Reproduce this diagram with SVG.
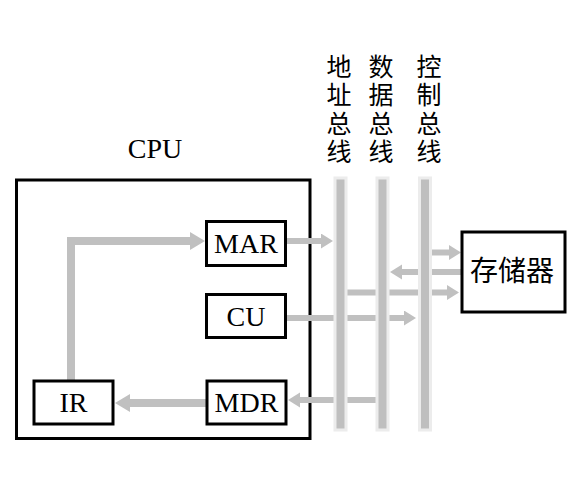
<svg xmlns="http://www.w3.org/2000/svg" width="578" height="498" viewBox="0 0 578 498">
<style>
.box{fill:#fff;stroke:#000;stroke-width:3}
.lbl{font-family:"Liberation Serif","Times New Roman",serif;font-size:28px;fill:#000;text-anchor:middle}
.cjk{font-family:"Noto Sans CJK SC","Noto Sans",sans-serif;fill:#000;text-anchor:middle}
.vert{font-family:"Noto Sans CJK SC","Noto Sans",sans-serif;font-size:25px;fill:#000;writing-mode:vertical-rl;letter-spacing:3.5px}
.big{fill:none;stroke:#c0c0c0;stroke-width:8;stroke-linejoin:miter}
.thin{fill:none;stroke:#c0c0c0;stroke-width:6}
.bar{fill:#bfbfbf;stroke:#ececec;stroke-width:3}
</style>
<defs>
<marker id="ahBig" markerUnits="userSpaceOnUse" markerWidth="16" markerHeight="19" refX="0" refY="9" orient="auto">
<path d="M0,0 L15,9 L0,18 z" fill="#c0c0c0"/>
</marker>
<marker id="ahSmall" markerUnits="userSpaceOnUse" markerWidth="13" markerHeight="16" refX="0" refY="7.5" orient="auto">
<path d="M0,0 L12,7.5 L0,15 z" fill="#c0c0c0"/>
</marker>
</defs>

<rect width="578" height="498" fill="#fff"/>

<g id="cpu">
<rect class="box" x="16.5" y="180" width="293.5" height="258.5"/>
<text class="lbl" x="155" y="158">CPU</text>
</g>

<g id="connectors">
<polyline class="big" points="71,380 71,241 190,241" marker-end="url(#ahBig)"/>
<line class="big" x1="207" y1="403" x2="130" y2="403" marker-end="url(#ahBig)"/>
<line class="thin" x1="286" y1="241" x2="321" y2="241" marker-end="url(#ahSmall)"/>
<line class="thin" x1="431" y1="252.5" x2="449" y2="252.5" marker-end="url(#ahSmall)"/>
<line class="thin" x1="462" y1="272" x2="402" y2="272" marker-end="url(#ahSmall)"/>
<line class="thin" x1="347" y1="292.5" x2="447" y2="292.5" marker-end="url(#ahSmall)"/>
<line class="thin" x1="286" y1="318" x2="404" y2="318" marker-end="url(#ahSmall)"/>
<line class="thin" x1="376" y1="400" x2="300" y2="400" marker-end="url(#ahSmall)"/>
</g>

<g id="addr-bus">
<rect class="bar" x="335" y="178" width="11" height="252"/>
<text class="vert" x="339" y="53.5">地址总线</text>
</g>
<g id="data-bus">
<rect class="bar" x="377" y="178" width="11" height="252"/>
<text class="vert" x="381" y="53.5">数据总线</text>
</g>
<g id="ctrl-bus">
<rect class="bar" x="419.5" y="178" width="11" height="252"/>
<text class="vert" x="429" y="53.5">控制总线</text>
</g>

<g id="mar">
<rect class="box" x="206.5" y="221.5" width="79" height="44"/>
<text class="lbl" x="246" y="253">MAR</text>
</g>
<g id="cu">
<rect class="box" x="206.5" y="294.5" width="79" height="43"/>
<text class="lbl" x="246" y="326">CU</text>
</g>
<g id="mdr">
<rect class="box" x="207" y="381" width="79" height="43"/>
<text class="lbl" x="246.5" y="412">MDR</text>
</g>
<g id="ir">
<rect class="box" x="34" y="381" width="79" height="43"/>
<text class="lbl" x="73.5" y="412">IR</text>
</g>
<g id="memory">
<rect class="box" x="462" y="232" width="103" height="80"/>
<text class="cjk" font-size="28" x="512" y="280.5">存储器</text>
</g>
</svg>
